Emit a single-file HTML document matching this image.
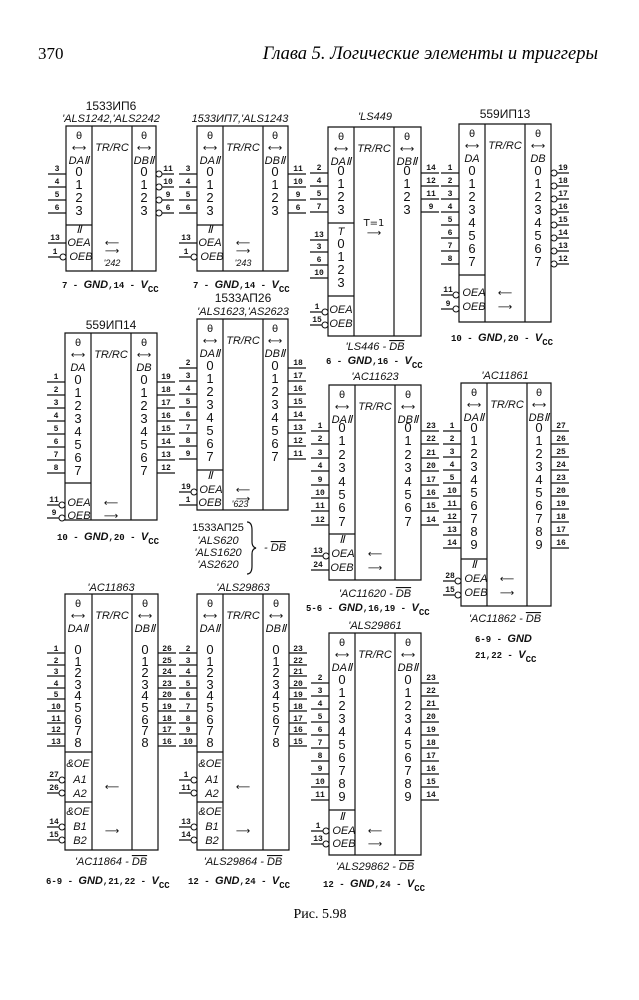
<!DOCTYPE html>
<html><head><meta charset="utf-8"><style>
body{margin:0;background:#fff}
svg{display:block}
.d{font:13px "Liberation Sans",sans-serif;text-anchor:middle;fill:#111}
.p{font:bold 8px "Liberation Mono",monospace;text-anchor:middle;fill:#111}
.i{font:italic 11px "Liberation Sans",sans-serif;text-anchor:middle;fill:#111}
.h{font:10px "DejaVu Sans",sans-serif;text-anchor:middle;fill:#111}
.t{font:12px "Liberation Sans","Noto Sans CJK SC",sans-serif;text-anchor:middle;fill:#111}
.f{font:bold 9px "Liberation Mono",monospace;fill:#111}
.fi{font:italic bold 11px "Liberation Sans",sans-serif}
.s{fill:none;stroke:#111;stroke-width:1.2}
.b{fill:#fff;stroke:#111;stroke-width:1}
</style></head><body>
<svg width="639" height="1000" viewBox="0 0 639 1000" xmlns="http://www.w3.org/2000/svg">
<text x="38" y="59" style="font:17px 'Liberation Serif',serif">370</text>
<text x="598" y="59" text-anchor="end" style="font:italic 18.5px 'Liberation Serif','Noto Serif CJK SC',serif">Глава 5.  Логические элементы и триггеры</text>
<text x="320" y="918" text-anchor="middle" style="font:14px 'Liberation Serif','Noto Serif CJK SC',serif">Рис. 5.98</text>

<!-- Chip1 -->
<text class="t" x="111" y="110">1533ИП6</text>
<text class="i" x="111" y="122">'ALS1242,'ALS2242</text>
<path class="s" d="M66 126h90v145h-90zM92 126v145M132 126v145M66 225h26M48 174h18M48 187h18M48 200h18M48 213h18M159 174h15M159 187h15M159 200h15M159 213h15M48 243h18M48 257h12"/>
<circle class="b" cx="159" cy="174" r="3"/><circle class="b" cx="159" cy="187" r="3"/><circle class="b" cx="159" cy="200" r="3"/><circle class="b" cx="159" cy="213" r="3"/><circle class="b" cx="63" cy="257" r="3"/>
<text class="h" x="79" y="139">θ</text><text class="h" x="79" y="151">⟷</text><text class="i" x="79" y="164">DAⅡ</text>
<text class="h" x="144" y="139">θ</text><text class="h" x="144" y="151">⟷</text><text class="i" x="144" y="164">DBⅡ</text>
<text class="i" x="112" y="151">TR/RC</text>
<text class="d" x="79" y="176">0</text><text class="d" x="79" y="189">1</text><text class="d" x="79" y="202">2</text><text class="d" x="79" y="215">3</text>
<text class="d" x="144" y="176">0</text><text class="d" x="144" y="189">1</text><text class="d" x="144" y="202">2</text><text class="d" x="144" y="215">3</text>
<text class="p" x="57" y="171">3</text><text class="p" x="57" y="184">4</text><text class="p" x="57" y="197">5</text><text class="p" x="57" y="210">6</text>
<text class="p" x="168" y="171">11</text><text class="p" x="168" y="184">10</text><text class="p" x="168" y="197">9</text><text class="p" x="168" y="210">6</text>
<text class="i" x="79" y="233">Ⅱ</text><text class="i" x="79" y="246">OEA</text><text class="i" x="81" y="260">OEB</text>
<text class="p" x="55" y="240">13</text><text class="p" x="55" y="254">1</text>
<text class="h" x="112" y="246">⟵</text><text class="h" x="112" y="254">⟶</text><text class="i" x="112" y="266" style="font-size:9px">'242</text>
<text class="f" x="62" y="288">7 - <tspan class="fi">GND</tspan>,14 - <tspan class="fi">V</tspan><tspan dy="4">CC</tspan></text>

<!-- Chip2 -->
<text class="i" x="240" y="122">1533ИП7,'ALS1243</text>
<path class="s" d="M197 126h91v145h-91zM223 126v145M263 126v145M197 225h26M179 174h18M179 187h18M179 200h18M179 213h18M288 174h18M288 187h18M288 200h18M288 213h18M179 243h18M179 257h12"/>
<circle class="b" cx="194" cy="257" r="3"/>
<text class="h" x="210" y="139">θ</text><text class="h" x="210" y="151">⟷</text><text class="i" x="210" y="164">DAⅡ</text>
<text class="h" x="275" y="139">θ</text><text class="h" x="275" y="151">⟷</text><text class="i" x="275" y="164">DBⅡ</text>
<text class="i" x="243" y="151">TR/RC</text>
<text class="d" x="210" y="176">0</text><text class="d" x="210" y="189">1</text><text class="d" x="210" y="202">2</text><text class="d" x="210" y="215">3</text>
<text class="d" x="275" y="176">0</text><text class="d" x="275" y="189">1</text><text class="d" x="275" y="202">2</text><text class="d" x="275" y="215">3</text>
<text class="p" x="188" y="171">3</text><text class="p" x="188" y="184">4</text><text class="p" x="188" y="197">5</text><text class="p" x="188" y="210">6</text>
<text class="p" x="298" y="171">11</text><text class="p" x="298" y="184">10</text><text class="p" x="298" y="197">9</text><text class="p" x="298" y="210">6</text>
<text class="i" x="210" y="233">Ⅱ</text><text class="i" x="210" y="246">OEA</text><text class="i" x="212" y="260">OEB</text>
<text class="p" x="186" y="240">13</text><text class="p" x="186" y="254">1</text>
<text class="h" x="243" y="246">⟵</text><text class="h" x="243" y="254">⟶</text><text class="i" x="243" y="266" style="font-size:9px">'243</text>
<text class="f" x="193" y="288">7 - <tspan class="fi">GND</tspan>,14 - <tspan class="fi">V</tspan><tspan dy="4">CC</tspan></text>

<!-- Chip3 LS449 -->
<text class="i" x="375" y="120">'LS449</text>
<path class="s" d="M328 127h93v209h-93zM354 127v209M394 127v209M328 223h26M328 296h26M310 173h18M310 186h18M310 199h18M310 212h18M421 173h18M421 186h18M421 199h18M421 212h18M310 240h18M310 252h18M310 265h18M310 278h18M310 312h12M310 325h12"/>
<circle class="b" cx="325" cy="312" r="3"/><circle class="b" cx="325" cy="325" r="3"/>
<text class="h" x="341" y="140">θ</text><text class="h" x="341" y="152">⟷</text><text class="i" x="341" y="165">DAⅡ</text>
<text class="h" x="407" y="140">θ</text><text class="h" x="407" y="152">⟷</text><text class="i" x="407" y="165">DBⅡ</text>
<text class="i" x="374" y="152">TR/RC</text>
<text class="d" x="341" y="175">0</text><text class="d" x="341" y="188">1</text><text class="d" x="341" y="201">2</text><text class="d" x="341" y="214">3</text>
<text class="d" x="407" y="175">0</text><text class="d" x="407" y="188">1</text><text class="d" x="407" y="201">2</text><text class="d" x="407" y="214">3</text>
<text class="i" x="341" y="235">T</text>
<text class="d" x="341" y="248">0</text><text class="d" x="341" y="261">1</text><text class="d" x="341" y="274">2</text><text class="d" x="341" y="287">3</text>
<text class="p" x="319" y="170">2</text><text class="p" x="319" y="183">4</text><text class="p" x="319" y="196">5</text><text class="p" x="319" y="209">7</text>
<text class="p" x="431" y="170">14</text><text class="p" x="431" y="183">12</text><text class="p" x="431" y="196">11</text><text class="p" x="431" y="209">9</text>
<text class="p" x="319" y="237">13</text><text class="p" x="319" y="249">3</text><text class="p" x="319" y="262">6</text><text class="p" x="319" y="275">10</text>
<text class="i" x="341" y="313">OEA</text><text class="i" x="341" y="327">OEB</text>
<text class="p" x="317" y="309">1</text><text class="p" x="317" y="322">15</text>
<text class="h" x="374" y="226">T=1</text><text class="h" x="374" y="236">⟶</text>
<text class="i" x="375" y="350">'LS446 - <tspan style="text-decoration:overline">DB</tspan></text>
<text class="f" x="326" y="364">6 - <tspan class="fi">GND</tspan>,16 - <tspan class="fi">V</tspan><tspan dy="4">CC</tspan></text>

<!-- Chip4 559ИП13 -->
<text class="t" x="505" y="118">559ИП13</text>
<path class="s" d="M459 124h92v198h-92zM485 124v198M525 124v198M459 275h26M441 173h18M441 186h18M441 199h18M441 212h18M441 225h18M441 238h18M441 251h18M441 264h18M557 173h12M557 186h12M557 199h12M557 212h12M557 225h12M557 238h12M557 251h12M557 264h12M441 295h12M441 309h12"/>
<g class="b"><circle cx="554" cy="173" r="3"/><circle cx="554" cy="186" r="3"/><circle cx="554" cy="199" r="3"/><circle cx="554" cy="212" r="3"/><circle cx="554" cy="225" r="3"/><circle cx="554" cy="238" r="3"/><circle cx="554" cy="251" r="3"/><circle cx="554" cy="264" r="3"/><circle cx="456" cy="295" r="3"/><circle cx="456" cy="309" r="3"/></g>
<text class="h" x="472" y="137">θ</text><text class="h" x="472" y="149">⟷</text><text class="i" x="472" y="162">DA</text>
<text class="h" x="538" y="137">θ</text><text class="h" x="538" y="149">⟷</text><text class="i" x="538" y="162">DB</text>
<text class="i" x="505" y="149">TR/RC</text>
<g class="d"><text x="472" y="175">0</text><text x="472" y="188">1</text><text x="472" y="201">2</text><text x="472" y="214">3</text><text x="472" y="227">4</text><text x="472" y="240">5</text><text x="472" y="253">6</text><text x="472" y="266">7</text>
<text x="538" y="175">0</text><text x="538" y="188">1</text><text x="538" y="201">2</text><text x="538" y="214">3</text><text x="538" y="227">4</text><text x="538" y="240">5</text><text x="538" y="253">6</text><text x="538" y="266">7</text></g>
<g class="p"><text x="450" y="170">1</text><text x="450" y="183">2</text><text x="450" y="196">3</text><text x="450" y="209">4</text><text x="450" y="222">5</text><text x="450" y="235">6</text><text x="450" y="248">7</text><text x="450" y="261">8</text>
<text x="563" y="170">19</text><text x="563" y="183">18</text><text x="563" y="196">17</text><text x="563" y="209">16</text><text x="563" y="222">15</text><text x="563" y="235">14</text><text x="563" y="248">13</text><text x="563" y="261">12</text>
<text x="448" y="292">11</text><text x="448" y="306">9</text></g>
<text class="i" x="474" y="296">OEA</text><text class="i" x="474" y="310">OEB</text>
<text class="h" x="505" y="296">⟵</text><text class="h" x="505" y="310">⟶</text>
<text class="f" x="451" y="341">10 - <tspan class="fi">GND</tspan>,20 - <tspan class="fi">V</tspan><tspan dy="4">CC</tspan></text>

<!-- Chip5 559ИП14 -->
<text class="t" x="111" y="329">559ИП14</text>
<path class="s" d="M65 333h92v187h-92zM91 333v187M131 333v187M65 483h26M47 382h18M47 395h18M47 408h18M47 421h18M47 434h18M47 447h18M47 460h18M47 473h18M157 382h18M157 395h18M157 408h18M157 421h18M157 434h18M157 447h18M157 460h18M157 473h18M47 505h12M47 518h12"/>
<circle class="b" cx="62" cy="505" r="3"/><circle class="b" cx="62" cy="518" r="3"/>
<text class="h" x="78" y="346">θ</text><text class="h" x="78" y="358">⟷</text><text class="i" x="78" y="371">DA</text>
<text class="h" x="144" y="346">θ</text><text class="h" x="144" y="358">⟷</text><text class="i" x="144" y="371">DB</text>
<text class="i" x="111" y="358">TR/RC</text>
<g class="d"><text x="78" y="384">0</text><text x="78" y="397">1</text><text x="78" y="410">2</text><text x="78" y="423">3</text><text x="78" y="436">4</text><text x="78" y="449">5</text><text x="78" y="462">6</text><text x="78" y="475">7</text>
<text x="144" y="384">0</text><text x="144" y="397">1</text><text x="144" y="410">2</text><text x="144" y="423">3</text><text x="144" y="436">4</text><text x="144" y="449">5</text><text x="144" y="462">6</text><text x="144" y="475">7</text></g>
<g class="p"><text x="56" y="379">1</text><text x="56" y="392">2</text><text x="56" y="405">3</text><text x="56" y="418">4</text><text x="56" y="431">5</text><text x="56" y="444">6</text><text x="56" y="457">7</text><text x="56" y="470">8</text>
<text x="166" y="379">19</text><text x="166" y="392">18</text><text x="166" y="405">17</text><text x="166" y="418">16</text><text x="166" y="431">15</text><text x="166" y="444">14</text><text x="166" y="457">13</text><text x="166" y="470">12</text>
<text x="54" y="502">11</text><text x="54" y="515">9</text></g>
<text class="i" x="79" y="506">OEA</text><text class="i" x="79" y="519">OEB</text>
<text class="h" x="111" y="506">⟵</text><text class="h" x="111" y="519">⟶</text>
<text class="f" x="57" y="540">10 - <tspan class="fi">GND</tspan>,20 - <tspan class="fi">V</tspan><tspan dy="4">CC</tspan></text>

<!-- Chip6 1533АП26 -->
<text class="t" x="243" y="302">1533АП26</text>
<text class="i" x="243" y="315">'ALS1623,'AS2623</text>
<path class="s" d="M197 319h91v191h-91zM223 319v191M263 319v191M197 470h26M179 368h18M179 381h18M179 394h18M179 407h18M179 420h18M179 433h18M179 446h18M179 459h18M288 368h18M288 381h18M288 394h18M288 407h18M288 420h18M288 433h18M288 446h18M288 459h18M179 492h12M179 505h18"/>
<circle class="b" cx="194" cy="492" r="3"/>
<text class="h" x="210" y="332">θ</text><text class="h" x="210" y="344">⟷</text><text class="i" x="210" y="357">DAⅡ</text>
<text class="h" x="275" y="332">θ</text><text class="h" x="275" y="344">⟷</text><text class="i" x="275" y="357">DBⅡ</text>
<text class="i" x="243" y="344">TR/RC</text>
<g class="d"><text x="210" y="370">0</text><text x="210" y="383">1</text><text x="210" y="396">2</text><text x="210" y="409">3</text><text x="210" y="422">4</text><text x="210" y="435">5</text><text x="210" y="448">6</text><text x="210" y="461">7</text>
<text x="275" y="370">0</text><text x="275" y="383">1</text><text x="275" y="396">2</text><text x="275" y="409">3</text><text x="275" y="422">4</text><text x="275" y="435">5</text><text x="275" y="448">6</text><text x="275" y="461">7</text></g>
<g class="p"><text x="188" y="365">2</text><text x="188" y="378">3</text><text x="188" y="391">4</text><text x="188" y="404">5</text><text x="188" y="417">6</text><text x="188" y="430">7</text><text x="188" y="443">8</text><text x="188" y="456">9</text>
<text x="298" y="365">18</text><text x="298" y="378">17</text><text x="298" y="391">16</text><text x="298" y="404">15</text><text x="298" y="417">14</text><text x="298" y="430">13</text><text x="298" y="443">12</text><text x="298" y="456">11</text>
<text x="186" y="489">19</text><text x="188" y="502">1</text></g>
<text class="i" x="210" y="479">Ⅱ</text><text class="i" x="211" y="493">OEA</text><text class="i" x="210" y="506">OEB</text>
<text class="h" x="243" y="493">⟵</text><text class="h" x="243" y="502">⟶</text><text class="i" x="240" y="507" style="font-size:9px">'623</text>
<g class="t" style="font-size:11px"><text x="218" y="531">1533АП25</text><text class="i" x="218" y="544">'ALS620</text><text class="i" x="218" y="556">'ALS1620</text><text class="i" x="218" y="568">'AS2620</text></g>
<path class="s" d="M247 522q5 0 5 8v12q0 5 4 6q-4 1-4 6v12q0 8-5 8"/>
<text class="i" x="275" y="551">- <tspan style="text-decoration:overline">DB</tspan></text>

<!-- Chip7 AC11623 -->
<text class="i" x="375" y="380">'AC11623</text>
<path class="s" d="M329 385h92v195h-92zM355 385v195M395 385v195M329 534h26M311 431h18M311 444h18M311 458h18M311 471h18M311 485h18M311 498h18M311 511h18M311 525h18M421 431h18M421 444h18M421 458h18M421 471h18M421 485h18M421 498h18M421 511h18M421 525h18M311 556h12M311 570h18"/>
<circle class="b" cx="326" cy="556" r="3"/>
<text class="h" x="342" y="398">θ</text><text class="h" x="342" y="410">⟷</text><text class="i" x="342" y="423">DAⅡ</text>
<text class="h" x="408" y="398">θ</text><text class="h" x="408" y="410">⟷</text><text class="i" x="408" y="423">DBⅡ</text>
<text class="i" x="375" y="410">TR/RC</text>
<g class="d"><text x="342" y="432">0</text><text x="342" y="445">1</text><text x="342" y="459">2</text><text x="342" y="472">3</text><text x="342" y="486">4</text><text x="342" y="499">5</text><text x="342" y="512">6</text><text x="342" y="526">7</text>
<text x="408" y="432">0</text><text x="408" y="445">1</text><text x="408" y="459">2</text><text x="408" y="472">3</text><text x="408" y="486">4</text><text x="408" y="499">5</text><text x="408" y="512">6</text><text x="408" y="526">7</text></g>
<g class="p"><text x="320" y="428">1</text><text x="320" y="441">2</text><text x="320" y="455">3</text><text x="320" y="468">4</text><text x="320" y="482">9</text><text x="320" y="495">10</text><text x="320" y="508">11</text><text x="320" y="522">12</text>
<text x="431" y="428">23</text><text x="431" y="441">22</text><text x="431" y="455">21</text><text x="431" y="468">20</text><text x="431" y="482">17</text><text x="431" y="495">16</text><text x="431" y="508">15</text><text x="431" y="522">14</text>
<text x="318" y="553">13</text><text x="318" y="567">24</text></g>
<text class="i" x="342" y="543">Ⅱ</text><text class="i" x="343" y="557">OEA</text><text class="i" x="342" y="571">OEB</text>
<text class="h" x="375" y="557">⟵</text><text class="h" x="375" y="571">⟶</text>
<text class="i" x="375" y="597">'AC11620 - <tspan style="text-decoration:overline">DB</tspan></text>
<text class="f" x="306" y="611">5-6 - <tspan class="fi">GND</tspan>,16,19 - <tspan class="fi">V</tspan><tspan dy="4">CC</tspan></text>

<!-- Chip8 AC11861 -->
<text class="i" x="505" y="379">'AC11861</text>
<path class="s" d="M461 383h90v223h-90zM487 383v223M527 383v223M461 559h26M443 431h18M443 444h18M443 457h18M443 470h18M443 483h18M443 496h18M443 509h18M443 522h18M443 535h18M443 548h18M551 431h18M551 444h18M551 457h18M551 470h18M551 483h18M551 496h18M551 509h18M551 522h18M551 535h18M551 548h18M443 581h12M443 595h12"/>
<circle class="b" cx="458" cy="581" r="3"/><circle class="b" cx="458" cy="595" r="3"/>
<text class="h" x="474" y="396">θ</text><text class="h" x="474" y="408">⟷</text><text class="i" x="474" y="421">DAⅡ</text>
<text class="h" x="539" y="396">θ</text><text class="h" x="539" y="408">⟷</text><text class="i" x="539" y="421">DBⅡ</text>
<text class="i" x="507" y="408">TR/RC</text>
<g class="d"><text x="474" y="432">0</text><text x="474" y="445">1</text><text x="474" y="458">2</text><text x="474" y="471">3</text><text x="474" y="484">4</text><text x="474" y="497">5</text><text x="474" y="510">6</text><text x="474" y="523">7</text><text x="474" y="536">8</text><text x="474" y="549">9</text>
<text x="539" y="432">0</text><text x="539" y="445">1</text><text x="539" y="458">2</text><text x="539" y="471">3</text><text x="539" y="484">4</text><text x="539" y="497">5</text><text x="539" y="510">6</text><text x="539" y="523">7</text><text x="539" y="536">8</text><text x="539" y="549">9</text></g>
<g class="p"><text x="452" y="428">1</text><text x="452" y="441">2</text><text x="452" y="454">3</text><text x="452" y="467">4</text><text x="452" y="480">5</text><text x="452" y="493">10</text><text x="452" y="506">11</text><text x="452" y="519">12</text><text x="452" y="532">13</text><text x="452" y="545">14</text>
<text x="561" y="428">27</text><text x="561" y="441">26</text><text x="561" y="454">25</text><text x="561" y="467">24</text><text x="561" y="480">23</text><text x="561" y="493">20</text><text x="561" y="506">19</text><text x="561" y="519">18</text><text x="561" y="532">17</text><text x="561" y="545">16</text>
<text x="450" y="578">28</text><text x="450" y="592">15</text></g>
<text class="i" x="474" y="568">Ⅱ</text><text class="i" x="476" y="582">OEA</text><text class="i" x="476" y="596">OEB</text>
<text class="h" x="507" y="582">⟵</text><text class="h" x="507" y="596">⟶</text>
<text class="i" x="505" y="622">'AC11862 - <tspan style="text-decoration:overline">DB</tspan></text>
<text class="f" x="475" y="642">6-9 - <tspan class="fi">GND</tspan></text>
<text class="f" x="475" y="658">21,22 - <tspan class="fi">V</tspan><tspan dy="4">CC</tspan></text>

<!-- Chip9 AC11863 -->
<text class="i" x="111" y="591">'AC11863</text>
<path class="s" d="M65 594h93v256h-93zM92 594v256M132 594v256M65 752h27M65 802h27M47 653h18M47 665h18M47 676h18M47 688h18M47 699h18M47 711h18M47 723h18M47 734h18M47 746h18M158 653h18M158 665h18M158 676h18M158 688h18M158 699h18M158 711h18M158 723h18M158 734h18M158 746h18M47 780h12M47 793h12M47 827h12M47 840h12"/>
<g class="b"><circle cx="62" cy="780" r="3"/><circle cx="62" cy="793" r="3"/><circle cx="62" cy="827" r="3"/><circle cx="62" cy="840" r="3"/></g>
<text class="h" x="78" y="607">θ</text><text class="h" x="78" y="619">⟷</text><text class="i" x="78" y="632">DAⅡ</text>
<text class="h" x="145" y="607">θ</text><text class="h" x="145" y="619">⟷</text><text class="i" x="145" y="632">DBⅡ</text>
<text class="i" x="112" y="619">TR/RC</text>
<g class="d"><text x="78" y="654">0</text><text x="78" y="666">1</text><text x="78" y="677">2</text><text x="78" y="689">3</text><text x="78" y="700">4</text><text x="78" y="712">5</text><text x="78" y="724">6</text><text x="78" y="735">7</text><text x="78" y="747">8</text>
<text x="145" y="654">0</text><text x="145" y="666">1</text><text x="145" y="677">2</text><text x="145" y="689">3</text><text x="145" y="700">4</text><text x="145" y="712">5</text><text x="145" y="724">6</text><text x="145" y="735">7</text><text x="145" y="747">8</text></g>
<g class="p"><text x="56" y="651">1</text><text x="56" y="663">2</text><text x="56" y="674">3</text><text x="56" y="686">4</text><text x="56" y="697">5</text><text x="56" y="709">10</text><text x="56" y="721">11</text><text x="56" y="732">12</text><text x="56" y="744">13</text>
<text x="167" y="651">26</text><text x="167" y="663">25</text><text x="167" y="674">24</text><text x="167" y="686">23</text><text x="167" y="697">20</text><text x="167" y="709">19</text><text x="167" y="721">18</text><text x="167" y="732">17</text><text x="167" y="744">16</text>
<text x="54" y="777">27</text><text x="54" y="790">26</text><text x="54" y="824">14</text><text x="54" y="837">15</text></g>
<text class="i" x="78" y="767">&amp;OE</text><text class="i" x="80" y="783">A1</text><text class="i" x="80" y="797">A2</text>
<text class="i" x="78" y="815">&amp;OE</text><text class="i" x="80" y="830">B1</text><text class="i" x="80" y="844">B2</text>
<text class="h" x="112" y="790">⟵</text><text class="h" x="112" y="834">⟶</text>
<text class="i" x="111" y="865">'AC11864 - <tspan style="text-decoration:overline">DB</tspan></text>
<text class="f" x="46" y="884">6-9 - <tspan class="fi">GND</tspan>,21,22 - <tspan class="fi">V</tspan><tspan dy="4">CC</tspan></text>

<!-- Chip10 ALS29863 -->
<text class="i" x="243" y="591">'ALS29863</text>
<path class="s" d="M197 594h92v256h-92zM223 594v256M263 594v256M197 752h26M197 802h26M179 653h18M179 665h18M179 676h18M179 688h18M179 699h18M179 711h18M179 723h18M179 734h18M179 746h18M289 653h18M289 665h18M289 676h18M289 688h18M289 699h18M289 711h18M289 723h18M289 734h18M289 746h18M179 780h12M179 793h12M179 827h12M179 840h12"/>
<g class="b"><circle cx="194" cy="780" r="3"/><circle cx="194" cy="793" r="3"/><circle cx="194" cy="827" r="3"/><circle cx="194" cy="840" r="3"/></g>
<text class="h" x="210" y="607">θ</text><text class="h" x="210" y="619">⟷</text><text class="i" x="210" y="632">DAⅡ</text>
<text class="h" x="276" y="607">θ</text><text class="h" x="276" y="619">⟷</text><text class="i" x="276" y="632">DBⅡ</text>
<text class="i" x="243" y="619">TR/RC</text>
<g class="d"><text x="210" y="654">0</text><text x="210" y="666">1</text><text x="210" y="677">2</text><text x="210" y="689">3</text><text x="210" y="700">4</text><text x="210" y="712">5</text><text x="210" y="724">6</text><text x="210" y="735">7</text><text x="210" y="747">8</text>
<text x="276" y="654">0</text><text x="276" y="666">1</text><text x="276" y="677">2</text><text x="276" y="689">3</text><text x="276" y="700">4</text><text x="276" y="712">5</text><text x="276" y="724">6</text><text x="276" y="735">7</text><text x="276" y="747">8</text></g>
<g class="p"><text x="188" y="651">2</text><text x="188" y="663">3</text><text x="188" y="674">4</text><text x="188" y="686">5</text><text x="188" y="697">6</text><text x="188" y="709">7</text><text x="188" y="721">8</text><text x="188" y="732">9</text><text x="188" y="744">10</text>
<text x="298" y="651">23</text><text x="298" y="663">22</text><text x="298" y="674">21</text><text x="298" y="686">20</text><text x="298" y="697">19</text><text x="298" y="709">18</text><text x="298" y="721">17</text><text x="298" y="732">16</text><text x="298" y="744">15</text>
<text x="186" y="777">1</text><text x="186" y="790">11</text><text x="186" y="824">13</text><text x="186" y="837">14</text></g>
<text class="i" x="210" y="767">&amp;OE</text><text class="i" x="212" y="783">A1</text><text class="i" x="212" y="797">A2</text>
<text class="i" x="210" y="815">&amp;OE</text><text class="i" x="212" y="830">B1</text><text class="i" x="212" y="844">B2</text>
<text class="h" x="243" y="790">⟵</text><text class="h" x="243" y="834">⟶</text>
<text class="i" x="243" y="865">'ALS29864 - <tspan style="text-decoration:overline">DB</tspan></text>
<text class="f" x="188" y="884">12 - <tspan class="fi">GND</tspan>,24 - <tspan class="fi">V</tspan><tspan dy="4">CC</tspan></text>

<!-- Chip11 ALS29861 -->
<text class="i" x="375" y="629">'ALS29861</text>
<path class="s" d="M329 633h92v222h-92zM355 633v222M395 633v222M329 810h26M311 683h18M311 696h18M311 709h18M311 722h18M311 735h18M311 748h18M311 761h18M311 774h18M311 787h18M311 800h18M421 683h18M421 696h18M421 709h18M421 722h18M421 735h18M421 748h18M421 761h18M421 774h18M421 787h18M421 800h18M311 831h12M311 844h12"/>
<circle class="b" cx="326" cy="831" r="3"/><circle class="b" cx="326" cy="844" r="3"/>
<text class="h" x="342" y="646">θ</text><text class="h" x="342" y="658">⟷</text><text class="i" x="342" y="671">DAⅡ</text>
<text class="h" x="408" y="646">θ</text><text class="h" x="408" y="658">⟷</text><text class="i" x="408" y="671">DBⅡ</text>
<text class="i" x="375" y="658">TR/RC</text>
<g class="d"><text x="342" y="684">0</text><text x="342" y="697">1</text><text x="342" y="710">2</text><text x="342" y="723">3</text><text x="342" y="736">4</text><text x="342" y="749">5</text><text x="342" y="762">6</text><text x="342" y="775">7</text><text x="342" y="788">8</text><text x="342" y="801">9</text>
<text x="408" y="684">0</text><text x="408" y="697">1</text><text x="408" y="710">2</text><text x="408" y="723">3</text><text x="408" y="736">4</text><text x="408" y="749">5</text><text x="408" y="762">6</text><text x="408" y="775">7</text><text x="408" y="788">8</text><text x="408" y="801">9</text></g>
<g class="p"><text x="320" y="680">2</text><text x="320" y="693">3</text><text x="320" y="706">4</text><text x="320" y="719">5</text><text x="320" y="732">6</text><text x="320" y="745">7</text><text x="320" y="758">8</text><text x="320" y="771">9</text><text x="320" y="784">10</text><text x="320" y="797">11</text>
<text x="431" y="680">23</text><text x="431" y="693">22</text><text x="431" y="706">21</text><text x="431" y="719">20</text><text x="431" y="732">19</text><text x="431" y="745">18</text><text x="431" y="758">17</text><text x="431" y="771">16</text><text x="431" y="784">15</text><text x="431" y="797">14</text>
<text x="318" y="828">1</text><text x="318" y="841">13</text></g>
<text class="i" x="342" y="820">Ⅱ</text><text class="i" x="344" y="834">OEA</text><text class="i" x="344" y="847">OEB</text>
<text class="h" x="375" y="834">⟵</text><text class="h" x="375" y="847">⟶</text>
<text class="i" x="375" y="870">'ALS29862 - <tspan style="text-decoration:overline">DB</tspan></text>
<text class="f" x="323" y="887">12 - <tspan class="fi">GND</tspan>,24 - <tspan class="fi">V</tspan><tspan dy="4">CC</tspan></text>
</svg>
</body></html>
